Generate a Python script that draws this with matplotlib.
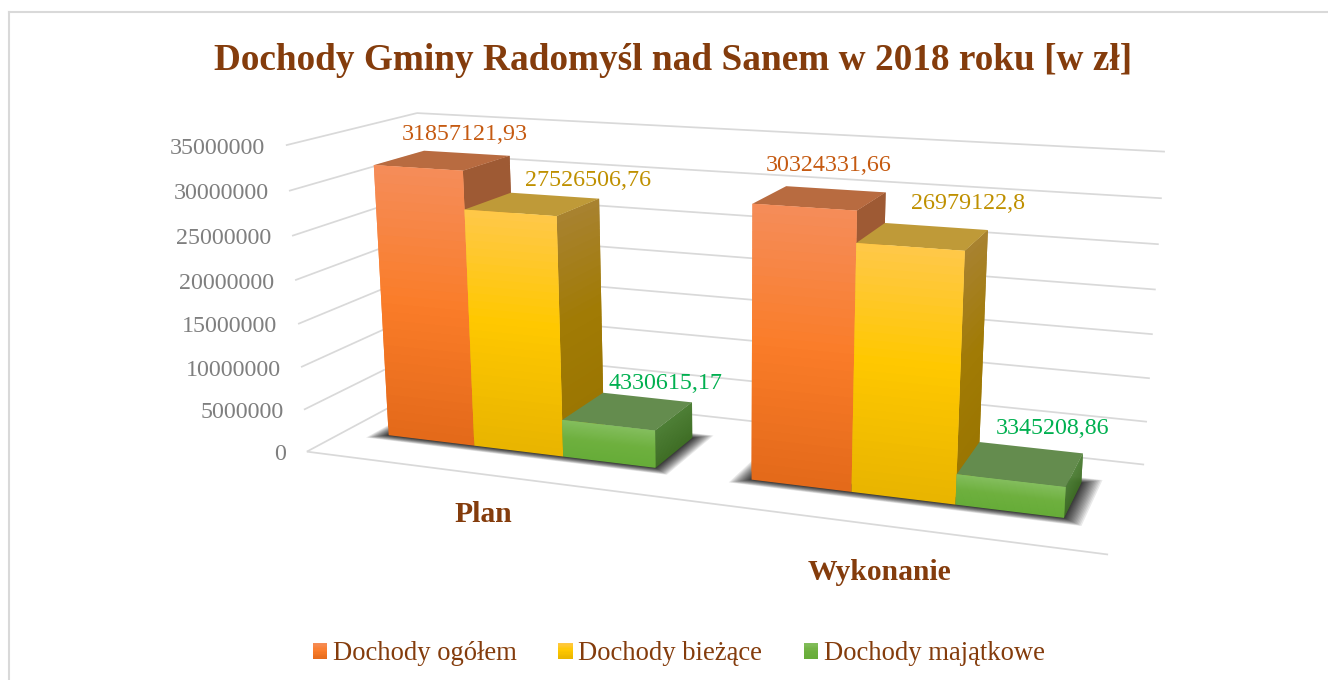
import numpy as np
import matplotlib
matplotlib.use('Agg')
import matplotlib.pyplot as plt
from matplotlib.lines import Line2D
from matplotlib.patches import Rectangle, Patch
from matplotlib.legend_handler import HandlerBase
from mpl_toolkits.mplot3d.art3d import Poly3DCollection, Line3DCollection

plt.rcParams['font.family'] = ['Liberation Serif', 'DejaVu Serif']

# ---- data -------------------------------------------------------------
categories = ['Plan', 'Wykonanie']
series = ['Dochody ogółem', 'Dochody bieżące', 'Dochody majątkowe']
ogolem = [31857121.93, 30324331.66]
biezace = [27526506.76, 26979122.8]
majatkowe = [4330615.17, 3345208.86]
value_labels = [['31857121,93', '30324331,66'],
                ['27526506,76', '26979122,8'],
                ['4330615,17', '3345208,86']]
value_ticks = [0, 5000000, 10000000, 15000000, 20000000, 25000000, 30000000, 35000000]
title = 'Dochody Gminy Radomyśl nad Sanem w 2018 roku [w zł]'

# ---- style / layout ---------------------------------------------------
W, H = 1328, 680
Z_MAX = 35000000
BROWN = '#843C0C'
GRID = '#D9D9D9'
TICK = '#7F7F7F'
LABEL_COLORS = ['#C55A11', '#BF9000', '#00B050']
BAR_W, D_FRONT, D_BACK = 0.25, 0.30, 0.70
# (t, colour): t=0 bottom of a bar, t=1 top of a bar
FRONT = [[(0, '#E3691A'), (0.5, '#FA7C28'), (1, '#F58D5A')],
         [(0, '#E8B400'), (0.55, '#FFC800'), (1, '#FFC84A')],
         [(0, '#66AC38'), (0.5, '#6EB03E'), (1, '#84BE5E')]]
SIDE = [[(0, '#9E5A34'), (1, '#9E5A34')],
        [(0, '#997400'), (0.55, '#A17B05'), (1, '#A88230')],
        [(0, '#3F6E25'), (1, '#4E7F36')]]
TOP = ['#B86B40', '#BF9A38', '#648C4E']
# label offsets (x units, value units) from the back-top edge centre of a bar
LABEL_OFF = [[(-0.003, 2500000), (-0.018, 2900000)],
             [(0.095, 2350000), (0.076, 3000000)],
             [(0.052, 2300000), (0.05, 2800000)]]
CAT_POS = [(0.62, -0.369), (1.563, -0.401)]

# camera: maps (x, depth, value/Z_MAX, 1) to image pixels / 1000
CAMERA = np.array([
    [0.31655267975834817, 0.17908691228896206, -0.034393745013496395, 0.30682622612341115],
    [0.00937242246614419, -0.015995321615504873, -0.3132054920458811, 0.4516331081243753],
    [-0.07587525827137136, 0.12982256001563608, -0.046998492327415216, 1.0]])
SCALED = CAMERA @ np.diag([1.0, 1.0, 1.0 / Z_MAX, 1.0])

fig = plt.figure(figsize=(W / 100, H / 100), dpi=100, facecolor='white')
ax = fig.add_axes([0, 0, 1, 1], projection='3d', computed_zorder=False)
ax.set_axis_off()
ax.apply_aspect = lambda position=None: None


def camera_proj():
    disp = np.vstack([1000 * SCALED[0], H * SCALED[2] - 1000 * SCALED[1], SCALED[2]])
    Q = ax.transData.inverted().get_matrix() @ disp
    return np.vstack([Q[0], Q[1], [0, 1, 0, 0], Q[2]])


ax.get_proj = camera_proj


def label_at(x, d, v, text, dx=0.0, dy=0.0, **kw):
    """Text anchored at a chart position, shifted by dx, dy pixels."""
    q = SCALED @ np.array([x, d, v, 1.0])
    u, w = 1000 * q[0] / q[2] + dx, 1000 * q[1] / q[2] + dy
    return fig.text(u / W, 1 - w / H, text, **kw)


def shade(stops, t):
    ts = [a for a, _ in stops]
    rgb = np.array([matplotlib.colors.to_rgb(c) for _, c in stops])
    return tuple(np.interp(t, ts, rgb[:, i]) for i in range(3))


def add_poly(poly, color, zorder):
    col = Poly3DCollection([poly], facecolors=[color], edgecolors='none', linewidths=0)
    ax.add_collection3d(col, autolim=False)
    col.set_clip_on(False)
    col.set_snap(False)
    col.set_zorder(zorder)


def gradient_face(corner, v, stops, zorder, n=32):
    """corner(z) gives the edge ends at height z; each strip overlaps the next to hide seams."""
    for i in range(n):
        a, b = corner(v * i / n)
        c, d = corner(v * min(i + 2, n) / n)
        add_poly([a, b, d, c], shade(stops, (i + 0.5) / n), zorder + i * 1e-4)


# grid: left wall, back wall, floor front edge
segments = []
for v in value_ticks:
    segments.append([(0, 0, v), (0, 1, v)])
    segments.append([(0, 1, v), (2, 1, v)])
segments.append([(0, 0, 0), (2, 0, 0)])
grid = Line3DCollection(segments, colors=GRID, linewidths=1.25)
ax.add_collection3d(grid, autolim=False)
grid.set_clip_on(False)
grid.set_zorder(1)

# tick labels
for v in value_ticks:
    label_at(0, 0, v, str(v), dx=-20.5, dy=3, ha='right', va='center', color=TICK, fontsize=17.3)

# shadows
for c in range(len(categories)):
    x0, x1 = c + 0.125, c + 0.875
    n = 16
    for i in range(n, 0, -1):
        f = (i / n) ** 1.3
        mx = 0.045 * f
        md = 0.06 * f
        add_poly([(x0 - mx, D_FRONT - md, 0), (x1 + mx, D_FRONT - md, 0),
                  (x1 + mx, D_BACK + md, 0), (x0 - mx, D_BACK + md, 0)], (0, 0, 0, 0.085), 2)

# bars
all_series = [ogolem, biezace, majatkowe]
z = 3.0
for c in range(len(categories)):
    for s, vals in enumerate(all_series):
        v = vals[c]
        xl = c + 0.125 + s * BAR_W
        xr = xl + BAR_W
        gradient_face(lambda h, xr=xr: ((xr, D_FRONT, h), (xr, D_BACK, h)), v, SIDE[s], z)
        z += 0.01
        add_poly([(xl, D_FRONT, v), (xr, D_FRONT, v), (xr, D_BACK, v), (xl, D_BACK, v)], TOP[s], z)
        z += 0.01
        gradient_face(lambda h, xl=xl, xr=xr: ((xl, D_FRONT, h), (xr, D_FRONT, h)), v, FRONT[s], z)
        z += 0.01

# value labels
for s, vals in enumerate(all_series):
    for c, v in enumerate(vals):
        dx, dz = LABEL_OFF[s][c]
        label_at(c + 0.125 + (s + 0.5) * BAR_W + dx, D_BACK, v + dz, value_labels[s][c], dy=3,
                 ha='center', va='center', color=LABEL_COLORS[s], fontsize=17.3)

# category labels
for name, (x, d) in zip(categories, CAT_POS):
    label_at(x, d, 0, name, dy=3, ha='center', va='center', color=BROWN, fontsize=21.3, fontweight='bold')

# title
fig.text(673.5 / W, 1 - 60 / H, title, ha='center', va='center', color=BROWN, fontsize=26.8, fontweight='bold')

# frame of the chart (open at the right and bottom of the crop)
fig.add_artist(Line2D([9 / W, 9 / W], [0, 1 - 12 / H], color=GRID, lw=1.5, transform=fig.transFigure))
fig.add_artist(Line2D([9 / W, 1], [1 - 12 / H, 1 - 12 / H], color=GRID, lw=1.5, transform=fig.transFigure))


class GradientSquare(HandlerBase):
    def __init__(self, stops):
        super().__init__()
        self.stops = stops

    def create_artists(self, legend, orig, xd, yd, width, height, fontsize, trans):
        n = 12
        out = []
        for i in range(n):
            out.append(Rectangle((-xd, -yd + height * i / n), width, height * (n - i) / n,
                                 facecolor=shade(self.stops, (i + 0.5) / n), edgecolor='none', transform=trans))
        return out


handles = [Patch(label=name) for name in series]
hmap = {h: GradientSquare(FRONT[i]) for i, h in enumerate(handles)}
fig.legend(handles=handles, handler_map=hmap, loc='center', bbox_to_anchor=(678.5 / W, 1 - 654 / H), ncol=3,
           frameon=False, fontsize=19.2, labelcolor=BROWN, handlelength=0.55, handleheight=0.55,
           handletextpad=0.2, columnspacing=1.56, borderpad=0)

fig.savefig('out.png', dpi=100, facecolor='white')
